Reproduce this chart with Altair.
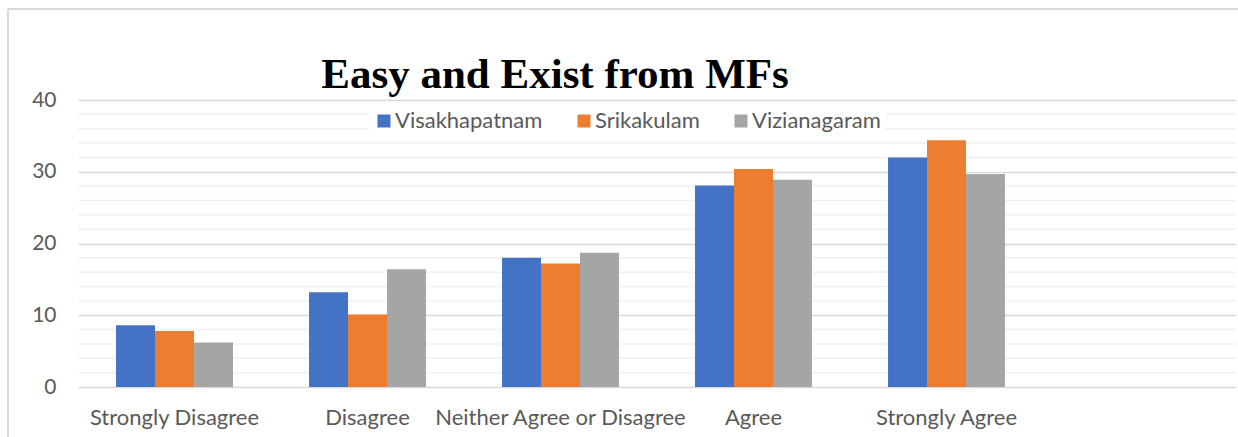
import altair as alt
import pandas as pd

categories = ["Strongly Disagree", "Disagree", "Neither Agree or Disagree", "Agree", "Strongly Agree"]
series = ["Visakhapatnam", "Srikakulam", "Vizianagaram"]
visakhapatnam = [8.6, 13.2, 18.0, 28.1, 32.0]
srikakulam = [7.8, 10.1, 17.2, 30.4, 34.4]
vizianagaram = [6.2, 16.4, 18.7, 28.9, 29.7]
colors = ["#4472C4", "#ED7D31", "#A5A5A5"]
minor_ticks = [v for v in range(2, 40, 2) if v % 10 != 0]
major_ticks = [0, 10, 20, 30, 40]
title_text = "Easy and Exist from MFs"

rows = []
for name, vals in zip(series, [visakhapatnam, srikakulam, vizianagaram]):
    for c, v in zip(categories, vals):
        rows.append({"category": c, "series": name, "value": v})
df = pd.DataFrame(rows)
grid_df = pd.DataFrame({"v": minor_ticks})
title_df = pd.DataFrame({"t": [title_text]})

W, H = 1158, 287
font = "Lato"
label_color = "#595959"
fs = 22

yscale = alt.Scale(domain=[0, 40], nice=False)
xdomain = categories + [" "]

yaxis = alt.Axis(title=None, values=major_ticks, domain=False, ticks=False,
                 labelPadding=22, labelFontSize=21, labelColor=label_color,
                 labelFont=font, grid=True, gridColor="#d9d9d9", gridWidth=1.5)

minor = alt.Chart(grid_df).mark_rule(color="#f0f0f0", strokeWidth=1.5).encode(
    y=alt.Y("v:Q", scale=yscale, axis=yaxis)
)

bars = alt.Chart(df).mark_bar().encode(
    x=alt.X("category:N", sort=xdomain,
            scale=alt.Scale(domain=xdomain, paddingInner=0.394, paddingOuter=0.197),
            axis=alt.Axis(title=None, labelAngle=0, domain=False, ticks=False,
                          labelPadding=20, labelFontSize=fs, labelColor=label_color,
                          labelFont=font, grid=False, labelLimit=0)),
    xOffset=alt.XOffset("series:N", sort=series),
    y=alt.Y("value:Q", scale=yscale, axis=yaxis),
    color=alt.Color("series:N", sort=series,
                    scale=alt.Scale(domain=series, range=colors),
                    legend=alt.Legend(title=None, orient="none", legendX=291, legendY=6,
                                      direction="horizontal", symbolType="square",
                                      symbolSize=169, symbolStrokeWidth=0,
                                      labelFontSize=fs, labelColor=label_color, labelFont=font,
                                      labelOffset=0, columnPadding=30, fillColor="white",
                                      padding=4)),
)

title = alt.Chart(title_df).mark_text(
    font="Liberation Serif", fontSize=43, fontWeight="bold", color="black",
    align="center", baseline="alphabetic"
).encode(text="t:N", x=alt.value(477), y=alt.value(-12))

frame_top = alt.Chart(title_df).mark_rule(color="#d9d9d9", strokeWidth=2).encode(
    x=alt.value(-70), x2=alt.value(W + 10), y=alt.value(-91)
)
frame_left = alt.Chart(title_df).mark_rule(color="#d9d9d9", strokeWidth=2).encode(
    x=alt.value(-70), y=alt.value(-91), y2=alt.value(H + 60)
)

chart = alt.layer(minor, bars, title, frame_top, frame_left).properties(
    width=W, height=H,
    background="white",
    autosize=alt.AutoSizeParams(type="none"),
    padding={"left": 78, "top": 100, "right": 2, "bottom": 50},
).configure_view(stroke=None, strokeWidth=0)

chart.save("out.html", embed_options={"renderer": "svg", "actions": False})
